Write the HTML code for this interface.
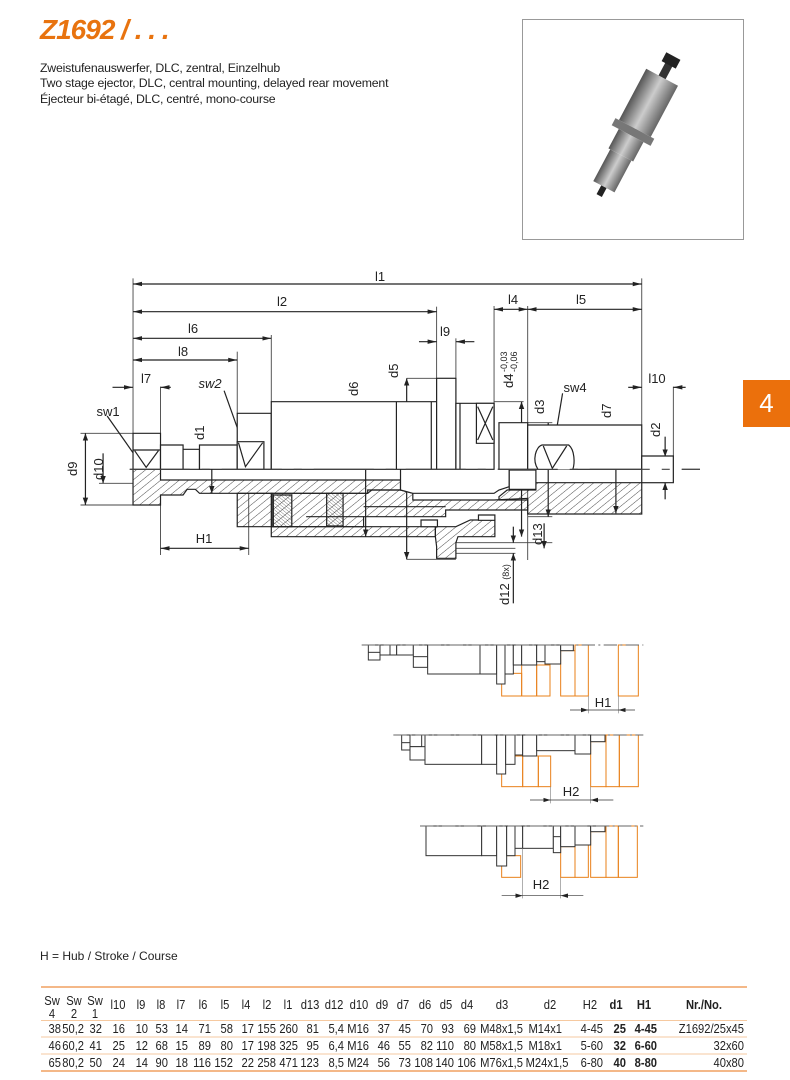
<!DOCTYPE html>
<html><head><meta charset="utf-8"><style>
html,body{margin:0;padding:0;background:#fff}
body{width:790px;height:1080px;position:relative;overflow:hidden;font-family:"Liberation Sans",sans-serif;color:#222}
.title{position:absolute;left:40px;top:14px;font-size:28px;font-weight:bold;font-style:italic;color:#e8730f;letter-spacing:-1px}
.desc{position:absolute;left:40px;top:61px;font-size:12.3px;line-height:15.3px;color:#222;letter-spacing:-0.2px}
.photo{position:absolute;left:522px;top:19px;width:222px;height:221px;border:1px solid #999;box-sizing:border-box}
.tab{position:absolute;left:743px;top:380px;width:47px;height:47px;background:#eb700c;color:#fff;font-size:26px;text-align:center;line-height:46px}
svg{position:absolute;left:0;top:0}
.t{font-family:"Liberation Sans Narrow","Liberation Sans",sans-serif;font-size:13px;fill:#222}
.hub{position:absolute;left:40px;top:949px;font-size:12px}
</style></head><body>
<div class="title">Z1692 / . . .</div>
<div class="desc">Zweistufenauswerfer, DLC, zentral, Einzelhub<br>Two stage ejector, DLC, central mounting, delayed rear movement<br>Éjecteur bi-étagé, DLC, centré, mono-course</div>
<div class="photo">
<svg width="222" height="221" viewBox="0 0 222 221" style="position:absolute;left:0;top:0">
<defs><linearGradient id="mg" x1="0" y1="0" x2="1" y2="0"><stop offset="0" stop-color="#555"/><stop offset="0.5" stop-color="#ccc"/><stop offset="1" stop-color="#666"/></linearGradient></defs>
<g transform="translate(110,112) rotate(28)">
<rect x="-4" y="-80" width="8" height="20" fill="#333"/>
<rect x="-8" y="-86" width="16" height="10" fill="#222"/>
<rect x="-18" y="-62" width="36" height="58" fill="url(#mg)"/>
<rect x="-22" y="-4" width="44" height="8" fill="#777"/>
<rect x="-14" y="4" width="28" height="22" fill="url(#mg)"/>
<rect x="-12" y="26" width="24" height="36" fill="url(#mg)"/>
<rect x="-3" y="62" width="6" height="10" fill="#222"/>
</g></svg></div>
<div class="tab">4</div>

<svg width="790" height="1080" viewBox="0 0 790 1080">
<defs>
<pattern id="h" patternUnits="userSpaceOnUse" width="16" height="16" patternTransform="rotate(45)"><line x1="0" y1="0" x2="0" y2="16" stroke="#333" stroke-width="2.4"/></pattern>
<pattern id="hd" patternUnits="userSpaceOnUse" width="7" height="7" patternTransform="rotate(-45)"><line x1="0" y1="0" x2="0" y2="7" stroke="#333" stroke-width="1.6"/></pattern>
<marker id="a" viewBox="0 0 10 6" refX="10" refY="3" markerWidth="22" markerHeight="14" markerUnits="userSpaceOnUse" orient="auto-start-reverse"><path d="M0,0 L10,3 L0,6z" fill="#222"/></marker>
</defs>

<g transform="translate(60,260) scale(0.41026,0.33333)" fill="none" stroke="#222" stroke-width="1.2">
<line x1="170" y1="628" x2="1560" y2="628" stroke-dasharray="60,12,8,12" vector-effect="non-scaling-stroke" stroke="#444"/>
<g stroke="#444" style="stroke-width:0.9">
<line x1="178" y1="55" x2="178" y2="520" vector-effect="non-scaling-stroke"/>
<line x1="1418" y1="55" x2="1418" y2="495" vector-effect="non-scaling-stroke"/>
<line x1="918" y1="140" x2="918" y2="355" vector-effect="non-scaling-stroke"/>
<line x1="515" y1="225" x2="515" y2="425" vector-effect="non-scaling-stroke"/>
<line x1="432" y1="275" x2="432" y2="460" vector-effect="non-scaling-stroke"/>
<line x1="245" y1="380" x2="245" y2="520" vector-effect="non-scaling-stroke"/>
<line x1="965" y1="235" x2="965" y2="355" vector-effect="non-scaling-stroke"/>
<line x1="1058" y1="138" x2="1058" y2="430" vector-effect="non-scaling-stroke"/>
<line x1="1140" y1="138" x2="1140" y2="900" vector-effect="non-scaling-stroke"/>
<line x1="1495" y1="380" x2="1495" y2="590" vector-effect="non-scaling-stroke"/>
<line x1="50" y1="520" x2="178" y2="520" vector-effect="non-scaling-stroke"/>
<line x1="50" y1="735" x2="178" y2="735" vector-effect="non-scaling-stroke"/>
<line x1="95" y1="670" x2="178" y2="670" vector-effect="non-scaling-stroke"/>
<line x1="245" y1="735" x2="245" y2="885" vector-effect="non-scaling-stroke"/>
<line x1="460" y1="700" x2="460" y2="885" vector-effect="non-scaling-stroke"/>
<line x1="845" y1="355" x2="965" y2="355" vector-effect="non-scaling-stroke"/>
<line x1="1058" y1="425" x2="1130" y2="425" vector-effect="non-scaling-stroke"/>
<line x1="1140" y1="488" x2="1200" y2="488" vector-effect="non-scaling-stroke"/>
<line x1="1140" y1="770" x2="1200" y2="770" vector-effect="non-scaling-stroke"/>
<line x1="845" y1="898" x2="965" y2="898" vector-effect="non-scaling-stroke"/>
<line x1="965" y1="848" x2="1200" y2="848" vector-effect="non-scaling-stroke"/>
<line x1="965" y1="865" x2="1110" y2="865" vector-effect="non-scaling-stroke"/>
<line x1="965" y1="880" x2="1110" y2="880" vector-effect="non-scaling-stroke"/>
<line x1="1418" y1="668" x2="1480" y2="668" vector-effect="non-scaling-stroke"/>
</g>
<g marker-start="url(#a)" marker-end="url(#a)" stroke="#222">
<line x1="178" y1="72" x2="1418" y2="72" vector-effect="non-scaling-stroke"/>
<line x1="178" y1="155" x2="918" y2="155" vector-effect="non-scaling-stroke"/>
<line x1="178" y1="235" x2="515" y2="235" vector-effect="non-scaling-stroke"/>
<line x1="178" y1="300" x2="432" y2="300" vector-effect="non-scaling-stroke"/>
<line x1="1058" y1="148" x2="1140" y2="148" vector-effect="non-scaling-stroke"/>
<line x1="1140" y1="148" x2="1418" y2="148" vector-effect="non-scaling-stroke"/>
<line x1="245" y1="865" x2="460" y2="865" vector-effect="non-scaling-stroke"/>
<line x1="62" y1="520" x2="62" y2="735" vector-effect="non-scaling-stroke"/>
<line x1="845" y1="355" x2="845" y2="898" vector-effect="non-scaling-stroke"/>
<line x1="745" y1="425" x2="745" y2="830" vector-effect="non-scaling-stroke"/>
<line x1="370" y1="555" x2="370" y2="700" vector-effect="non-scaling-stroke"/>
<line x1="1125" y1="425" x2="1125" y2="830" vector-effect="non-scaling-stroke"/>
<line x1="1190" y1="488" x2="1190" y2="770" vector-effect="non-scaling-stroke"/>
<line x1="1355" y1="495" x2="1355" y2="760" vector-effect="non-scaling-stroke"/>
</g>
<g marker-end="url(#a)" stroke="#222">
<line x1="128" y1="382" x2="178" y2="382" vector-effect="non-scaling-stroke"/>
<line x1="270" y1="382" x2="245" y2="382" vector-effect="non-scaling-stroke"/>
<line x1="875" y1="245" x2="918" y2="245" vector-effect="non-scaling-stroke"/>
<line x1="1010" y1="245" x2="965" y2="245" vector-effect="non-scaling-stroke"/>
<line x1="1385" y1="382" x2="1418" y2="382" vector-effect="non-scaling-stroke"/>
<line x1="1525" y1="382" x2="1495" y2="382" vector-effect="non-scaling-stroke"/>
<line x1="105" y1="580" x2="105" y2="670" vector-effect="non-scaling-stroke"/>
<line x1="1475" y1="530" x2="1475" y2="590" vector-effect="non-scaling-stroke"/>
<line x1="1475" y1="718" x2="1475" y2="668" vector-effect="non-scaling-stroke"/>
<line x1="1180" y1="790" x2="1180" y2="865" vector-effect="non-scaling-stroke"/>
<line x1="1105" y1="800" x2="1105" y2="848" vector-effect="non-scaling-stroke"/>
<line x1="1105" y1="1030" x2="1105" y2="880" vector-effect="non-scaling-stroke"/>
<line x1="115" y1="468" x2="195" y2="608" vector-effect="non-scaling-stroke"/>
<line x1="400" y1="392" x2="450" y2="565" vector-effect="non-scaling-stroke"/>
<line x1="1225" y1="400" x2="1200" y2="585" vector-effect="non-scaling-stroke"/>
</g>

<g stroke="#222">
<path d="M178,628 L178,735 L245,735 L245,705 L300,705 L310,688 L330,688 L340,700 L430,700 L515,700 L750,700 L750,690 L830,690 L830,660 L245,660 L245,628 Z" fill="url(#h)" vector-effect="non-scaling-stroke"/>
<rect x="432" y="700" width="85" height="100" fill="url(#h)" vector-effect="non-scaling-stroke"/>
<path d="M515,700 L750,700 L760,690 L830,690 L860,700 L860,720 L1058,720 L1140,715 L1140,750 L940,750 L940,770 L740,770 L740,800 L515,800 Z" fill="url(#h)" vector-effect="non-scaling-stroke"/>
<rect x="515" y="800" width="400" height="30" fill="url(#h)" vector-effect="non-scaling-stroke"/>
<path d="M915,800 L965,800 L1000,780 L1060,780 L1060,830 L970,830 L965,848 L965,895 L918,895 L918,860 L915,830 Z" fill="url(#h)" vector-effect="non-scaling-stroke"/>
<rect x="520" y="705" width="45" height="95" fill="url(#hd)" vector-effect="non-scaling-stroke"/>
<rect x="650" y="700" width="40" height="98" fill="url(#hd)" vector-effect="non-scaling-stroke"/>
<path d="M830,628 L830,690 L860,700 L1058,700 L1070,690 L1095,680 L1095,628" fill="#fff" vector-effect="non-scaling-stroke"/>
<path d="M1070,710 L1090,690 L1160,690 L1160,668 L1418,668 L1418,762 L1140,762 L1140,720 L1070,720 Z" fill="url(#h)" vector-effect="non-scaling-stroke"/>
<rect x="1020" y="765" width="40" height="16" fill="#fff" vector-effect="non-scaling-stroke"/>
<rect x="880" y="780" width="40" height="20" fill="#fff" vector-effect="non-scaling-stroke"/>
<line x1="740" y1="740" x2="940" y2="740" vector-effect="non-scaling-stroke"/>
<line x1="600" y1="770" x2="740" y2="770" vector-effect="non-scaling-stroke"/>
</g>
<g stroke="#222" fill="#fff">
<rect x="178" y="520" width="67" height="108" vector-effect="non-scaling-stroke"/>
<line x1="178" y1="570" x2="245" y2="570" vector-effect="non-scaling-stroke"/>
<path d="M182,572 L210,622 L240,572" vector-effect="non-scaling-stroke" fill="none"/>
<rect x="245" y="555" width="55" height="73" vector-effect="non-scaling-stroke"/>
<rect x="300" y="568" width="40" height="60" vector-effect="non-scaling-stroke"/>
<rect x="340" y="555" width="92" height="73" vector-effect="non-scaling-stroke"/>
<rect x="432" y="460" width="83" height="168" vector-effect="non-scaling-stroke"/>
<rect x="432" y="545" width="65" height="83" vector-effect="non-scaling-stroke"/>
<path d="M435,548 L452,620 L494,548" vector-effect="non-scaling-stroke" fill="none"/>
<rect x="515" y="425" width="403" height="203" vector-effect="non-scaling-stroke"/>
<line x1="820" y1="425" x2="820" y2="628" vector-effect="non-scaling-stroke"/>
<line x1="905" y1="425" x2="905" y2="628" vector-effect="non-scaling-stroke"/>
<rect x="918" y="355" width="47" height="273" vector-effect="non-scaling-stroke"/>
<rect x="965" y="430" width="93" height="198" vector-effect="non-scaling-stroke"/>
<line x1="975" y1="430" x2="975" y2="628" vector-effect="non-scaling-stroke"/>
<rect x="1015" y="430" width="43" height="120" vector-effect="non-scaling-stroke"/>
<path d="M1018,440 L1055,540 M1055,440 L1018,540" vector-effect="non-scaling-stroke" fill="none"/>
<rect x="1070" y="488" width="70" height="140" vector-effect="non-scaling-stroke"/>
<rect x="1140" y="495" width="278" height="133" vector-effect="non-scaling-stroke"/>
<path d="M1165,628 C1150,600 1160,560 1175,555 L1240,555 C1255,570 1255,610 1250,628" vector-effect="non-scaling-stroke"/>
<path d="M1178,558 L1200,625 L1235,558" vector-effect="non-scaling-stroke" fill="none"/>
<rect x="1418" y="588" width="77" height="80" vector-effect="non-scaling-stroke"/>
<rect x="1095" y="630" width="65" height="58" vector-effect="non-scaling-stroke"/>
</g>
<line x1="170" y1="628" x2="1560" y2="628" stroke-dasharray="60,12,8,12" vector-effect="non-scaling-stroke" stroke="#444"/>
</g>

<g class="t" text-anchor="middle">
<text x="380" y="281" class="t">l1</text>
<text x="282" y="306" class="t">l2</text>
<text x="193" y="333" class="t">l6</text>
<text x="183" y="356" class="t">l8</text>
<text x="146" y="383" class="t">l7</text>
<text x="445" y="336" class="t">l9</text>
<text x="513" y="304" class="t">l4</text>
<text x="581" y="304" class="t">l5</text>
<text x="657" y="383" class="t">l10</text>
<text x="108" y="416" class="t">sw1</text>
<text x="210" y="388" class="t" font-style="italic">sw2</text>
<text x="575" y="392" class="t">sw4</text>
<text x="204" y="543" class="t">H1</text>
</g>
<g class="t">
<text class="t" transform="translate(358,396) rotate(-90)">d6</text>
<text class="t" transform="translate(398,378) rotate(-90)">d5</text>
<text class="t" transform="translate(204,440) rotate(-90)">d1</text>
<text class="t" transform="translate(77,476) rotate(-90)">d9</text>
<text class="t" transform="translate(103,480) rotate(-90)">d10</text>
<text class="t" transform="translate(513,388) rotate(-90)">d4</text>
<text class="t" transform="translate(507,372) rotate(-90)" style="font-size:9px">-0,03</text>
<text class="t" transform="translate(517,372) rotate(-90)" style="font-size:9px">-0,06</text>
<text class="t" transform="translate(544,414) rotate(-90)">d3</text>
<text class="t" transform="translate(611,418) rotate(-90)">d7</text>
<text class="t" transform="translate(660,437) rotate(-90)">d2</text>
<text class="t" transform="translate(542,545) rotate(-90)">d13</text>
<text class="t" transform="translate(509,605) rotate(-90)">d12 <tspan style="font-size:9px">(8x)</tspan></text>
</g>

<g transform="translate(350,630) scale(0.33333)" fill="none" stroke-width="3">
<g stroke="#e8801a">
<rect x="455" y="130" width="60" height="68"/><rect x="515" y="105" width="45" height="93"/><rect x="560" y="105" width="40" height="93"/>
<rect x="632" y="62" width="43" height="136"/><rect x="675" y="45" width="40" height="153"/><rect x="805" y="45" width="60" height="153"/>
<rect x="455" y="378" width="63" height="92"/><rect x="518" y="378" width="47" height="92"/><rect x="565" y="378" width="37" height="92"/>
<rect x="722" y="335" width="46" height="135"/><rect x="768" y="315" width="40" height="155"/><rect x="808" y="315" width="57" height="155"/>
<rect x="455" y="677" width="57" height="65"/><rect x="632" y="650" width="43" height="92"/><rect x="675" y="645" width="40" height="97"/>
<rect x="722" y="605" width="46" height="137"/><rect x="768" y="588" width="37" height="154"/><rect x="805" y="588" width="57" height="154"/>
</g>
<g stroke="#333" fill="#fff">
<rect x="55" y="45" width="35" height="45"/><line x1="55" y1="67" x2="90" y2="67"/>
<rect x="90" y="45" width="30" height="30"/><rect x="120" y="45" width="20" height="30"/><rect x="140" y="45" width="50" height="30"/>
<rect x="190" y="45" width="43" height="67"/><line x1="190" y1="80" x2="233" y2="80"/>
<rect x="233" y="45" width="157" height="87"/><rect x="390" y="45" width="50" height="87"/>
<rect x="440" y="45" width="25" height="117"/><rect x="465" y="45" width="25" height="87"/><rect x="490" y="45" width="25" height="60"/>
<rect x="515" y="45" width="45" height="60"/><rect x="560" y="45" width="25" height="50"/><rect x="585" y="45" width="47" height="57"/><rect x="632" y="45" width="38" height="17"/>
<rect x="155" y="315" width="25" height="45"/><line x1="155" y1="338" x2="180" y2="338"/>
<rect x="180" y="315" width="35" height="35"/><rect x="180" y="350" width="45" height="40"/>
<rect x="225" y="315" width="170" height="88"/><rect x="395" y="315" width="45" height="88"/>
<rect x="440" y="315" width="27" height="117"/><rect x="467" y="315" width="28" height="88"/><rect x="495" y="315" width="23" height="60"/>
<rect x="518" y="315" width="42" height="63"/><rect x="560" y="315" width="115" height="47"/><rect x="675" y="315" width="47" height="57"/><rect x="722" y="315" width="43" height="20"/>
<rect x="228" y="588" width="167" height="89"/><rect x="395" y="588" width="45" height="89"/>
<rect x="440" y="588" width="30" height="120"/><rect x="470" y="588" width="25" height="89"/><rect x="495" y="588" width="23" height="67"/>
<rect x="518" y="588" width="92" height="67"/><rect x="610" y="588" width="22" height="80"/><line x1="610" y1="620" x2="632" y2="620"/>
<rect x="632" y="588" width="43" height="62"/><rect x="675" y="588" width="47" height="57"/><rect x="722" y="588" width="43" height="17"/>
</g>
<g stroke="#666" stroke-dasharray="40,10,6,10">
<line x1="35" y1="45" x2="880" y2="45"/><line x1="130" y1="315" x2="880" y2="315"/><line x1="210" y1="588" x2="880" y2="588"/>
</g>
<g stroke="#888" stroke-width="2">
<line x1="715" y1="198" x2="715" y2="250"/><line x1="805" y1="198" x2="805" y2="250"/>
<line x1="602" y1="470" x2="602" y2="520"/><line x1="722" y1="470" x2="722" y2="520"/>
<line x1="518" y1="655" x2="518" y2="805"/><line x1="632" y1="742" x2="632" y2="805"/>
</g>
<g stroke="#333" stroke-width="2" marker-end="url(#a)">
<line x1="660" y1="240" x2="715" y2="240"/><line x1="855" y1="240" x2="805" y2="240"/>
<line x1="540" y1="510" x2="602" y2="510"/><line x1="790" y1="510" x2="722" y2="510"/>
<line x1="455" y1="797" x2="518" y2="797"/><line x1="700" y1="797" x2="632" y2="797"/>
</g>
<line x1="715" y1="240" x2="805" y2="240" stroke="#333" stroke-width="2"/>
<line x1="602" y1="510" x2="722" y2="510" stroke="#333" stroke-width="2"/>
<line x1="518" y1="797" x2="632" y2="797" stroke="#333" stroke-width="2"/>
</g>
<g class="t" text-anchor="middle">
<text x="603" y="707" class="t">H1</text>
<text x="571" y="796" class="t">H2</text>
<text x="541" y="889" class="t">H2</text>
</g>

<g stroke="#f0a060">
<line x1="41" y1="987" x2="747" y2="987" stroke-width="1.5"/>
<line x1="41" y1="1020.5" x2="747" y2="1020.5" stroke="#f6c9a0"/>
<line x1="41" y1="1037" x2="747" y2="1037" stroke="#f6c9a0"/>
<line x1="41" y1="1054" x2="747" y2="1054" stroke="#f6c9a0"/>
<line x1="41" y1="1071" x2="747" y2="1071" stroke-width="1.5"/>
</g>
<g transform="scale(0.86 1)">
<g class="t" text-anchor="middle" style="font-size:13px">
<text x="60.5" y="1005">Sw</text><text x="60.5" y="1018">4</text>
<text x="86" y="1005">Sw</text><text x="86" y="1018">2</text>
<text x="110.5" y="1005">Sw</text><text x="110.5" y="1018">1</text>
<text x="137.2" y="1009">l10</text><text x="164" y="1009">l9</text><text x="187.2" y="1009">l8</text><text x="210.5" y="1009">l7</text>
<text x="236" y="1009">l6</text><text x="261.6" y="1009">l5</text><text x="286" y="1009">l4</text><text x="310.5" y="1009">l2</text>
<text x="334.9" y="1009">l1</text><text x="360.5" y="1009">d13</text><text x="388.4" y="1009">d12</text><text x="417.4" y="1009">d10</text>
<text x="444.2" y="1009">d9</text><text x="468.6" y="1009">d7</text><text x="494.2" y="1009">d6</text><text x="518.6" y="1009">d5</text>
<text x="543" y="1009">d4</text><text x="583.7" y="1009">d3</text><text x="639.5" y="1009">d2</text><text x="686" y="1009">H2</text>
<text x="716.3" y="1009" font-weight="bold">d1</text><text x="748.8" y="1009" font-weight="bold">H1</text><text x="818.6" y="1009" font-weight="bold">Nr./No.</text>
</g>
<g class="t" text-anchor="end" style="font-size:13px">
<text y="1033"><tspan x="70.9">38</tspan><tspan x="97.7">50,2</tspan><tspan x="118.6">32</tspan><tspan x="145.3">16</tspan><tspan x="172.1">10</tspan><tspan x="195.3">53</tspan><tspan x="218.6">14</tspan><tspan x="245.3">71</tspan><tspan x="270.9">58</tspan><tspan x="295.3">17</tspan><tspan x="320.9">155</tspan><tspan x="346.5">260</tspan><tspan x="370.9">81</tspan><tspan x="400">5,4</tspan><tspan x="429.1">M16</tspan><tspan x="453.5">37</tspan><tspan x="477.9">45</tspan><tspan x="503.5">70</tspan><tspan x="527.9">93</tspan><tspan x="553.5">69</tspan><tspan x="608.1">M48x1,5</tspan><tspan x="653.5">M14x1</tspan><tspan x="701.2">4-45</tspan><tspan x="727.9" font-weight="bold">25</tspan><tspan x="764" font-weight="bold">4-45</tspan><tspan x="865.1">Z1692/25x45</tspan></text>
<text y="1050"><tspan x="70.9">46</tspan><tspan x="97.7">60,2</tspan><tspan x="118.6">41</tspan><tspan x="145.3">25</tspan><tspan x="172.1">12</tspan><tspan x="195.3">68</tspan><tspan x="218.6">15</tspan><tspan x="245.3">89</tspan><tspan x="270.9">80</tspan><tspan x="295.3">17</tspan><tspan x="320.9">198</tspan><tspan x="346.5">325</tspan><tspan x="370.9">95</tspan><tspan x="400">6,4</tspan><tspan x="429.1">M16</tspan><tspan x="453.5">46</tspan><tspan x="477.9">55</tspan><tspan x="503.5">82</tspan><tspan x="527.9">110</tspan><tspan x="553.5">80</tspan><tspan x="608.1">M58x1,5</tspan><tspan x="653.5">M18x1</tspan><tspan x="701.2">5-60</tspan><tspan x="727.9" font-weight="bold">32</tspan><tspan x="764" font-weight="bold">6-60</tspan><tspan x="865.1">32x60</tspan></text>
<text y="1067"><tspan x="70.9">65</tspan><tspan x="97.7">80,2</tspan><tspan x="118.6">50</tspan><tspan x="145.3">24</tspan><tspan x="172.1">14</tspan><tspan x="195.3">90</tspan><tspan x="218.6">18</tspan><tspan x="245.3">116</tspan><tspan x="270.9">152</tspan><tspan x="295.3">22</tspan><tspan x="320.9">258</tspan><tspan x="346.5">471</tspan><tspan x="370.9">123</tspan><tspan x="400">8,5</tspan><tspan x="429.1">M24</tspan><tspan x="453.5">56</tspan><tspan x="477.9">73</tspan><tspan x="503.5">108</tspan><tspan x="527.9">140</tspan><tspan x="553.5">106</tspan><tspan x="608.1">M76x1,5</tspan><tspan x="661">M24x1,5</tspan><tspan x="701.2">6-80</tspan><tspan x="727.9" font-weight="bold">40</tspan><tspan x="764" font-weight="bold">8-80</tspan><tspan x="865.1">40x80</tspan></text>
</g>
</g>
</svg>
<div class="hub">H = Hub / Stroke / Course</div>
</body></html>
